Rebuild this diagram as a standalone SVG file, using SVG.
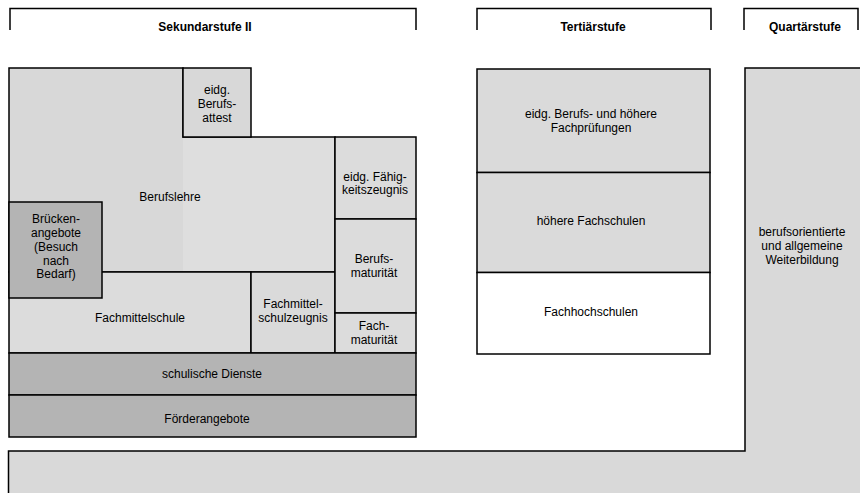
<svg xmlns="http://www.w3.org/2000/svg" width="860" height="493" viewBox="0 0 860 493">
<style>
.b{stroke:#000;stroke-width:1.5}
.lt{fill:#dadada}
.dk{fill:#b4b4b4}
.wh{fill:#fff}
text{font-family:"Liberation Sans",Arial,sans-serif;font-size:12px;fill:#000;text-anchor:middle}
.h{font-weight:bold}
.br{fill:none;stroke:#000;stroke-width:1.5}
</style>
<rect width="860" height="493" fill="#fff"/>
<g id="headers">
<g id="sek"><path class="br" d="M10,30 V8.5 H416 V30"/><text class="h" x="205" y="31">Sekundarstufe II</text></g>
<g id="tert"><path class="br" d="M477,30 V8.5 H711 V30"/><text class="h" x="593" y="31">Tertiärstufe</text></g>
<g id="quart"><path class="br" d="M744,30 V8.5 H858 V30"/><text class="h" x="805" y="31">Quartärstufe</text></g>
</g>
<g id="weiterbildung">
<path class="b" d="M8.5,500 V451 H745 V68 H870 V500 Z" fill="#d9d9d9"/>
<text x="802" y="235.5">berufsorientierte</text>
<text x="802" y="250">und allgemeine</text>
<text x="802" y="264">Weiterbildung</text>
</g>
<g id="berufslehre">
<rect x="9" y="68" width="174" height="204" fill="#d8d8d8"/>
<rect x="183" y="137" width="152" height="135" fill="#dedede"/>
<path class="b" fill="none" d="M9,272 V68 H183 V137 H335 V272 Z"/>
<text x="170" y="201">Berufslehre</text>
</g>
<g id="fachmittelschule">
<rect class="b" x="9" y="272" width="242" height="81" fill="#dcdcdc"/>
<text x="140" y="322">Fachmittelschule</text>
</g>
<g id="fmszeugnis">
<rect class="b lt" x="251" y="272" width="84" height="81"/>
<text x="293" y="308">Fachmittel-</text>
<text x="293" y="322">schulzeugnis</text>
</g>
<g id="efz">
<rect class="b" x="335" y="137" width="81" height="82" fill="#dcdcdc"/>
<text x="375" y="181">eidg. Fähig-</text>
<text x="375" y="194">keitszeugnis</text>
</g>
<g id="bm">
<rect class="b" x="335" y="219" width="81" height="94" fill="#dcdcdc"/>
<text x="374" y="263">Berufs-</text>
<text x="374" y="277">maturität</text>
</g>
<g id="fm">
<rect class="b" x="335" y="313" width="81" height="40" fill="#dcdcdc"/>
<text x="374" y="330">Fach-</text>
<text x="374" y="344">maturität</text>
</g>
<g id="eba">
<rect class="b" x="183" y="68" width="68" height="69" fill="#d8d8d8"/>
<text x="217" y="94">eidg.</text>
<text x="217" y="108">Berufs-</text>
<text x="217" y="122">attest</text>
</g>
<g id="bruecken">
<rect class="b dk" x="9" y="202" width="93" height="96"/>
<text x="56" y="223">Brücken-</text>
<text x="56" y="237">angebote</text>
<text x="56" y="251">(Besuch</text>
<text x="56" y="265">nach</text>
<text x="56" y="278">Bedarf)</text>
</g>
<g id="dienste">
<rect class="b dk" x="9" y="353" width="407" height="42"/>
<text x="212" y="378">schulische Dienste</text>
</g>
<g id="foerder">
<rect class="b dk" x="9" y="395" width="407" height="42"/>
<text x="207" y="423">Förderangebote</text>
</g>
<g id="pruefungen">
<rect class="b lt" x="477" y="69" width="233" height="103.5"/>
<text x="591" y="118">eidg. Berufs- und höhere</text>
<text x="591" y="132">Fachprüfungen</text>
</g>
<g id="hfs">
<rect class="b lt" x="477" y="172.5" width="233" height="100"/>
<text x="591" y="225">höhere Fachschulen</text>
</g>
<g id="fh">
<rect class="b wh" x="477" y="272.5" width="233" height="81.5"/>
<text x="591" y="316">Fachhochschulen</text>
</g>
<g id="connectors"></g>
</svg>
